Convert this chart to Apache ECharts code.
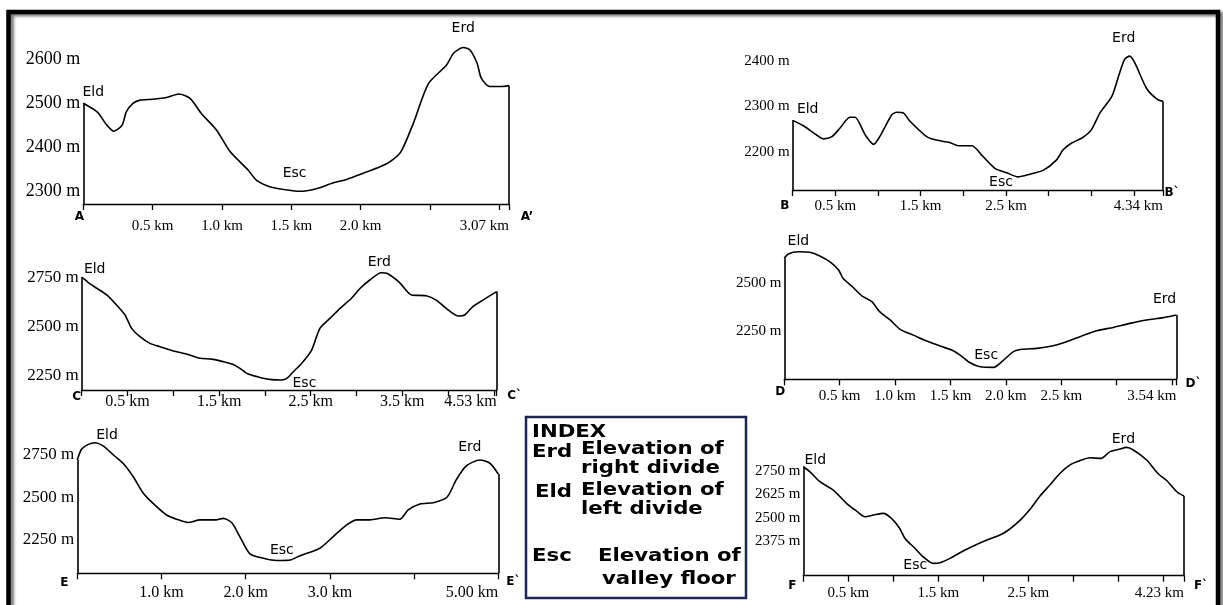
<!DOCTYPE html>
<html>
<head>
<meta charset="utf-8">
<script src="https://cdn.jsdelivr.net/npm/echarts@6/dist/echarts.min.js"></script>
<style>
html, body { margin: 0; padding: 0; background: #fff; }
#chart { width: 1223px; height: 605px; }
</style>
</head>
<body>
<div id="chart"></div>
<script>
// profile A - A'
var distA = [0, 0.10, 0.17, 0.22, 0.28, 0.31, 0.36, 0.41, 0.50, 0.60, 0.69, 0.77, 0.85, 0.96, 1.06, 1.19, 1.25, 1.35, 1.47, 1.56, 1.68, 1.80, 1.90, 2.00, 2.14, 2.21, 2.29, 2.38, 2.49, 2.62, 2.67, 2.74, 2.79, 2.84, 2.87, 2.93, 3.01, 3.07];
var elevA = [2500, 2480, 2450, 2436, 2450, 2480, 2500, 2507, 2509, 2513, 2521, 2511, 2477, 2439, 2389, 2347, 2324, 2309, 2302, 2299, 2305, 2318, 2326, 2338, 2355, 2366, 2389, 2454, 2545, 2587, 2614, 2627, 2621, 2591, 2557, 2538, 2538, 2540];
var xTicksA = [0, 0.5, 1, 1.5, 2, 2.5, 3, 3.07];
var xLabelsA = [0.5, 1.0, 1.5, 2.0];
var yTicksA = [2300, 2400, 2500, 2600];
var markDistA = [0, 1.56, 2.74];

// profile B - B`
var distB = [0, 0.125, 0.24, 0.36, 0.46, 0.555, 0.67, 0.73, 0.85, 0.95, 1.02, 1.16, 1.22, 1.30, 1.375, 1.57, 1.67, 1.84, 1.94, 2.10, 2.23, 2.37, 2.51, 2.64, 2.78, 2.94, 3.09, 3.17, 3.27, 3.39, 3.50, 3.60, 3.74, 3.82, 3.89, 3.95, 4.01, 4.15, 4.27, 4.34];
var elevB = [2269, 2257, 2242, 2228, 2233, 2252, 2276, 2276, 2237, 2216, 2233, 2281, 2287, 2285, 2267, 2233, 2226, 2220, 2213, 2213, 2189, 2163, 2153, 2144, 2150, 2159, 2181, 2204, 2219, 2230, 2248, 2285, 2322, 2367, 2404, 2411, 2396, 2339, 2316, 2311];
var xTicksB = [0, 0.5, 1, 1.5, 2, 2.5, 3, 3.5, 4, 4.34];
var xLabelsB = [0.5, 1.5, 2.5];
var yTicksB = [2200, 2300, 2400];
var markDistB = [0, 2.64, 3.95];

// profile C - C`
var distC = [0, 0.073, 0.164, 0.273, 0.38, 0.473, 0.545, 0.636, 0.745, 0.855, 1.0, 1.145, 1.29, 1.418, 1.545, 1.655, 1.727, 1.818, 1.945, 2.05, 2.18, 2.24, 2.31, 2.40, 2.51, 2.60, 2.71, 2.82, 2.945, 3.04, 3.145, 3.27, 3.33, 3.47, 3.60, 3.76, 3.87, 4.0, 4.11, 4.18, 4.27, 4.38, 4.53];
var elevC = [2752, 2725, 2696, 2662, 2611, 2560, 2492, 2450, 2416, 2399, 2377, 2362, 2340, 2336, 2323, 2309, 2289, 2260, 2243, 2233, 2230, 2238, 2272, 2314, 2382, 2492, 2543, 2594, 2645, 2696, 2738, 2775, 2772, 2725, 2662, 2658, 2636, 2586, 2555, 2560, 2603, 2636, 2679];
var xTicksC = [0, 0.5, 1, 1.5, 2, 2.5, 3, 3.5, 4, 4.5, 4.53];
var xLabelsC = [0.5, 1.5, 2.5, 3.5];
var yTicksC = [2250, 2500, 2750];
var markDistC = [0, 2.18, 3.27];

// profile D - D`
var distD = [0, 0.036, 0.127, 0.23, 0.32, 0.41, 0.49, 0.53, 0.62, 0.70, 0.79, 0.86, 0.955, 1.045, 1.165, 1.286, 1.407, 1.512, 1.587, 1.678, 1.768, 1.889, 1.964, 2.069, 2.145, 2.28, 2.416, 2.52, 2.67, 2.82, 2.97, 3.12, 3.27, 3.42, 3.54];
var elevD = [2627, 2649, 2661, 2658, 2639, 2609, 2566, 2523, 2476, 2431, 2401, 2349, 2306, 2257, 2227, 2196, 2170, 2149, 2123, 2083, 2062, 2059, 2089, 2141, 2153, 2158, 2170, 2187, 2219, 2250, 2267, 2288, 2306, 2318, 2332];
var xTicksD = [0, 0.5, 1, 1.5, 2, 2.5, 3, 3.5, 3.54];
var xLabelsD = [0.5, 1.0, 1.5, 2.0, 2.5];
var yTicksD = [2250, 2500];
var markDistD = [0.127, 1.768, 3.54];

// profile E - E`
var distE = [0, 0.05, 0.13, 0.21, 0.31, 0.43, 0.546, 0.665, 0.784, 0.90, 1.06, 1.18, 1.32, 1.457, 1.655, 1.734, 1.833, 1.93, 2.05, 2.21, 2.37, 2.53, 2.64, 2.88, 3.04, 3.20, 3.32, 3.476, 3.654, 3.83, 3.93, 4.07, 4.23, 4.39, 4.50, 4.62, 4.78, 4.90, 5.0];
var elevE = [2720, 2784, 2813, 2823, 2803, 2750, 2700, 2621, 2523, 2463, 2394, 2369, 2349, 2365, 2365, 2374, 2349, 2266, 2163, 2137, 2124, 2127, 2151, 2197, 2266, 2335, 2365, 2365, 2378, 2369, 2424, 2459, 2467, 2499, 2602, 2685, 2720, 2701, 2637];
var xTicksE = [0, 1, 2, 3, 4, 5];
var xLabelsE = [1.0, 2.0, 3.0];
var yTicksE = [2250, 2500, 2750];
var markDistE = [0.21, 2.37, 4.78];

// profile F - F`
var distF = [0, 0.074, 0.185, 0.333, 0.48, 0.59, 0.685, 0.78, 0.89, 0.98, 1.07, 1.13, 1.24, 1.33, 1.444, 1.52, 1.63, 1.74, 1.89, 2.04, 2.185, 2.28, 2.41, 2.52, 2.63, 2.74, 2.85, 2.96, 3.07, 3.185, 3.31, 3.35, 3.41, 3.52, 3.59, 3.667, 3.815, 3.94, 4.04, 4.15, 4.23];
var elevF = [2773, 2746, 2693, 2648, 2577, 2536, 2505, 2514, 2523, 2496, 2443, 2389, 2336, 2291, 2255, 2259, 2282, 2312, 2348, 2380, 2407, 2434, 2487, 2545, 2616, 2675, 2737, 2782, 2805, 2821, 2818, 2830, 2854, 2868, 2877, 2863, 2809, 2737, 2698, 2639, 2616];
var xTicksF = [0, 0.5, 1, 1.5, 2, 2.5, 3, 3.5, 4, 4.23];
var xLabelsF = [0.5, 1.5, 2.5];
var yTicksF = [2375, 2500, 2625, 2750];
var markDistF = [0, 1.444, 3.59];

var markNames = ['Eld', 'Esc', 'Erd'];

// layout of each panel (pixels) and its elevation window
var panels = [
    {dist: distA, elev: elevA, xTicks: xTicksA, xLabels: xLabelsA, yTicks: yTicksA, markDist: markDistA,
     ends: ['A', 'A\u2019'], left: 83.3, top: 30, width: 425.7, height: 174, yMin: 2270, yMax: 2667,
     yFont: 18, xFont: 15, xMargin: 15, startOff: [-4, 13], endOff: [18, 13],
     markOff: [[10, -11], [-5, -18], [0, -19]]},
    {dist: distB, elev: elevB, xTicks: xTicksB, xLabels: xLabelsB, yTicks: yTicksB, markDist: markDistB,
     ends: ['B', 'B`'], left: 792.7, top: 20, width: 370.3, height: 170, yMin: 2115, yMax: 2491,
     yFont: 15, xFont: 15, xMargin: 9, startOff: [-8, 16], endOff: [9, 3],
     markOff: [[15, -11], [-17, 5], [-6, -18]]},
    {dist: distC, elev: elevC, xTicks: xTicksC, xLabels: xLabelsC, yTicks: yTicksC, markDist: markDistC,
     ends: ['C', 'C`'], left: 81.7, top: 255, width: 415, height: 135, yMin: 2179, yMax: 2865,
     yFont: 17, xFont: 16, xMargin: 4, startOff: [-5, 7], endOff: [18, 6],
     markOff: [[13, -8], [23, 3], [-2, -10]]},
    {dist: distD, elev: elevD, xTicks: xTicksD, xLabels: xLabelsD, yTicks: yTicksD, markDist: markDistD,
     ends: ['D', 'D`'], left: 784.3, top: 240, width: 392.2, height: 139.3, yMin: 1997, yMax: 2722,
     yFont: 15, xFont: 15, xMargin: 9, startOff: [-4, 13], endOff: [17, 5],
     markOff: [[0, -10], [6, -11], [-12, -16]]},
    {dist: distE, elev: elevE, xTicks: xTicksE, xLabels: xLabelsE, yTicks: yTicksE, markDist: markDistE,
     ends: ['E', 'E`'], left: 77.3, top: 425, width: 421, height: 148.3, yMin: 2048, yMax: 2928,
     yFont: 17, xFont: 16, xMargin: 11, startOff: [-13, 10], endOff: [15, 9],
     markOff: [[12, -7], [5, -10], [-10, -13]]},
    {dist: distF, elev: elevF, xTicks: xTicksF, xLabels: xLabelsF, yTicks: yTicksF, markDist: markDistF,
     ends: ['F', 'F`'], left: 803.3, top: 430, width: 380.7, height: 145.7, yMin: 2189, yMax: 2970,
     yFont: 15, xFont: 15, xMargin: 9.5, startOff: [-11, 10], endOff: [17, 10],
     markOff: [[12, -6], [-18, 2], [-3, -8]]}
];

var serif = '"Liberation Serif", "Times New Roman", serif';
var sans = '"DejaVu Sans", Verdana, sans-serif';

function nearestIndex(arr, v) {
    var best = 0;
    arr.forEach(function (d, k) {
        if (Math.abs(d - v) < Math.abs(arr[best] - v)) best = k;
    });
    return best;
}

var option = {
    animation: false,
    backgroundColor: '#fff',
    grid: [], xAxis: [], yAxis: [], series: [], graphic: []
};

panels.forEach(function (p, i) {
    var xMax = p.dist[p.dist.length - 1];
    var pts = p.dist.map(function (d, k) { return [d, p.elev[k]]; });

    option.grid.push({left: p.left, top: p.top, width: p.width, height: p.height});

    option.xAxis.push({
        type: 'value', gridIndex: i, position: 'bottom', min: 0, max: xMax,
        axisLine: {lineStyle: {color: '#000', width: 1.4}},
        axisTick: {customValues: p.xTicks, length: 6, lineStyle: {color: '#000', width: 1.3}},
        axisLabel: {
            customValues: p.xLabels, margin: p.xMargin, color: '#000',
            fontFamily: serif, fontSize: p.xFont,
            formatter: function (v) { return v.toFixed(1) + ' km'; }
        },
        splitLine: {show: false}
    });
    // second axis only carries the end distance, right aligned under the end of the profile
    option.xAxis.push({
        type: 'value', gridIndex: i, position: 'bottom', min: 0, max: xMax,
        axisLine: {show: false}, axisTick: {show: false}, splitLine: {show: false},
        axisLabel: {
            customValues: [xMax], margin: p.xMargin, color: '#000', align: 'right',
            fontFamily: serif, fontSize: p.xFont,
            formatter: function (v) { return v.toFixed(2) + ' km'; }
        }
    });

    option.yAxis.push({
        type: 'value', gridIndex: i, min: p.yMin, max: p.yMax,
        axisLine: {show: false}, axisTick: {show: false}, splitLine: {show: false},
        axisLabel: {
            customValues: p.yTicks, margin: 3, color: '#000',
            fontFamily: serif, fontSize: p.yFont,
            formatter: function (v) { return v + ' m'; }
        }
    });

    option.series.push({
        type: 'line', xAxisIndex: 2 * i, yAxisIndex: i,
        data: pts, showSymbol: false, smooth: 0.25, clip: false, silent: true,
        lineStyle: {color: '#000', width: 1.6},
        markLine: {
            silent: true, symbol: ['none', 'none'], label: {show: false},
            lineStyle: {color: '#000', width: 1.6, type: 'solid'},
            emphasis: {disabled: true},
            data: [
                [{coord: [0, p.yMin]}, {coord: pts[0]}],
                [{coord: [xMax, p.yMin]}, {coord: pts[pts.length - 1]}]
            ]
        },
        markPoint: {
            silent: true, symbol: 'circle', symbolSize: 1,
            itemStyle: {color: 'rgba(0,0,0,0)'},
            label: {show: true, position: 'inside', formatter: '{b}', color: '#000',
                    fontFamily: sans, fontSize: 14},
            data: markNames.map(function (m, k) {
                return {name: m, coord: pts[nearestIndex(p.dist, p.markDist[k])],
                        label: {offset: p.markOff[k]}};
            })
        }
    });

    var axisY = p.top + p.height;
    option.graphic.push({
        type: 'text', x: p.left + p.startOff[0], y: axisY + p.startOff[1], silent: true,
        style: {text: p.ends[0], align: 'center', verticalAlign: 'middle', fill: '#000',
                font: 'bold 12px ' + sans}
    });
    option.graphic.push({
        type: 'text', x: p.left + p.width + p.endOff[0], y: axisY + p.endOff[1], silent: true,
        style: {text: p.ends[1], align: 'center', verticalAlign: 'middle', fill: '#000',
                font: 'bold 12px ' + sans}
    });
});

// outer frame
option.graphic.push({
    type: 'rect', silent: true,
    shape: {x: 8.5, y: 12, width: 1209.5, height: 600},
    style: {fill: 'none', stroke: '#000', lineWidth: 4.5,
            shadowBlur: 3, shadowColor: 'rgba(0,0,0,0.55)', shadowOffsetX: 3, shadowOffsetY: 2}
});

// index box
var indexLines = [
    ['INDEX', 532, 433], ['Erd', 532, 453], ['Elevation of', 581, 450], ['right divide', 581, 469],
    ['Eld', 535, 493], ['Elevation of', 581, 491], ['left divide', 581, 510],
    ['Esc', 532, 557], ['Elevation of', 598, 557], ['valley floor', 602, 580]
];
option.graphic.push({
    type: 'rect', silent: true,
    shape: {x: 526, y: 417, width: 220, height: 181},
    style: {fill: '#fff', stroke: '#1c2557', lineWidth: 2.5}
});
indexLines.forEach(function (t) {
    option.graphic.push({
        type: 'text', x: t[1], y: t[2], scaleX: 1.25, silent: true,
        style: {text: t[0], x: 0, y: 0, align: 'left', verticalAlign: 'middle', fill: '#000',
                font: 'bold 17px ' + sans}
    });
});

var myChart = echarts.init(document.getElementById('chart'), null, {renderer: 'canvas'});
myChart.setOption(option);
</script>
</body>
</html>
